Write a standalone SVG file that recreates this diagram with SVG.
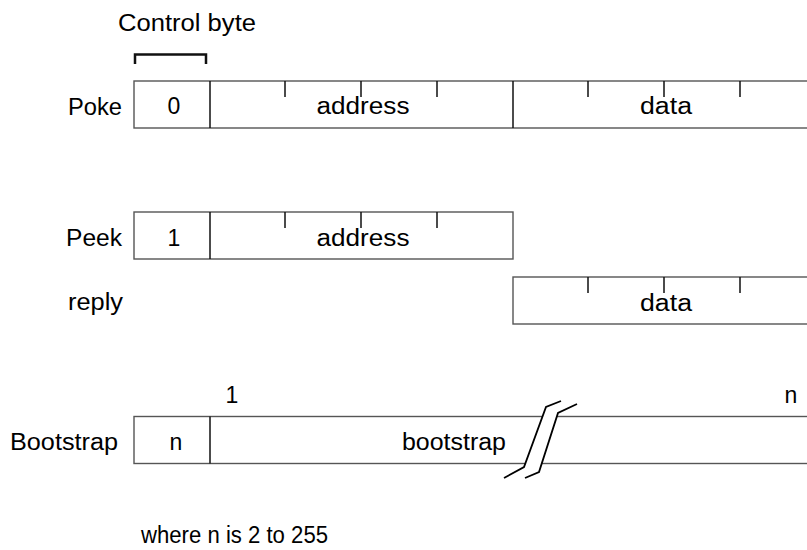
<svg xmlns="http://www.w3.org/2000/svg" width="807" height="550" viewBox="0 0 807 550">
<style>
text{font-family:"Liberation Sans",Arial,sans-serif;font-size:23px;fill:#000}
.box{fill:#fff;stroke:#555;stroke-width:1.4}
.div{stroke:#111;stroke-width:1.5}
.tick{stroke:#111;stroke-width:1.5}
.c{text-anchor:middle}
.r{text-anchor:end}
.brk{fill:none;stroke:#000;stroke-width:1.8}
</style>
<rect width="807" height="550" fill="#fff"/>
<g id="control-byte">
<path d="M135,64 V54.5 H206 V64" fill="none" stroke="#111" stroke-width="2.5"/>
<text x="118" y="31" textLength="138" lengthAdjust="spacingAndGlyphs">Control byte</text>
</g>
<g id="poke">
<text x="122" y="115" class="r" textLength="54" lengthAdjust="spacingAndGlyphs">Poke</text>
<rect class="box" x="134" y="81" width="690" height="47"/>
<line class="div" x1="210" y1="81" x2="210" y2="128"/>
<line class="div" x1="513" y1="81" x2="513" y2="128"/>
<path class="tick" d="M285,81v16M361,81v16M437,81v16M588,81v16M664,81v16M740,81v16"/>
<text x="174" y="114" class="c">0</text>
<text x="363" y="114" class="c" textLength="93" lengthAdjust="spacingAndGlyphs">address</text>
<text x="666" y="114" class="c" textLength="52" lengthAdjust="spacingAndGlyphs">data</text>
</g>
<g id="peek">
<text x="122" y="246" class="r" textLength="56" lengthAdjust="spacingAndGlyphs">Peek</text>
<rect class="box" x="134" y="212" width="379" height="47"/>
<line class="div" x1="210" y1="212" x2="210" y2="259"/>
<path class="tick" d="M285,212v16M361,212v16M437,212v16"/>
<text x="174" y="246" class="c">1</text>
<text x="363" y="246" class="c" textLength="93" lengthAdjust="spacingAndGlyphs">address</text>
</g>
<g id="reply">
<text x="123" y="310" class="r" textLength="55" lengthAdjust="spacingAndGlyphs">reply</text>
<rect class="box" x="513" y="277" width="311" height="47"/>
<path class="tick" d="M588,277v16M664,277v16M740,277v16"/>
<text x="666" y="311" class="c" textLength="52" lengthAdjust="spacingAndGlyphs">data</text>
</g>
<g id="bootstrap">
<text x="118" y="450" class="r" textLength="108" lengthAdjust="spacingAndGlyphs">Bootstrap</text>
<rect class="box" x="134" y="416.5" width="690" height="47"/>
<line class="div" x1="210" y1="416.5" x2="210" y2="463.5"/>
<text x="176" y="450" class="c">n</text>
<text x="454" y="450" class="c" textLength="104" lengthAdjust="spacingAndGlyphs">bootstrap</text>
<text x="232" y="403" class="c">1</text>
<text x="791" y="403" class="c">n</text>
<polygon points="524,467 546,407 558,413 539,472" fill="#fff"/>
<polyline class="brk" points="504,478 524,467 546,407 561,401"/>
<polyline class="brk" points="525,478 539,472 558,413 577,404"/>
</g>
<g id="note">
<text x="141" y="543" textLength="187" lengthAdjust="spacingAndGlyphs">where n is 2 to 255</text>
</g>
<g id="connectors"/>
</svg>
